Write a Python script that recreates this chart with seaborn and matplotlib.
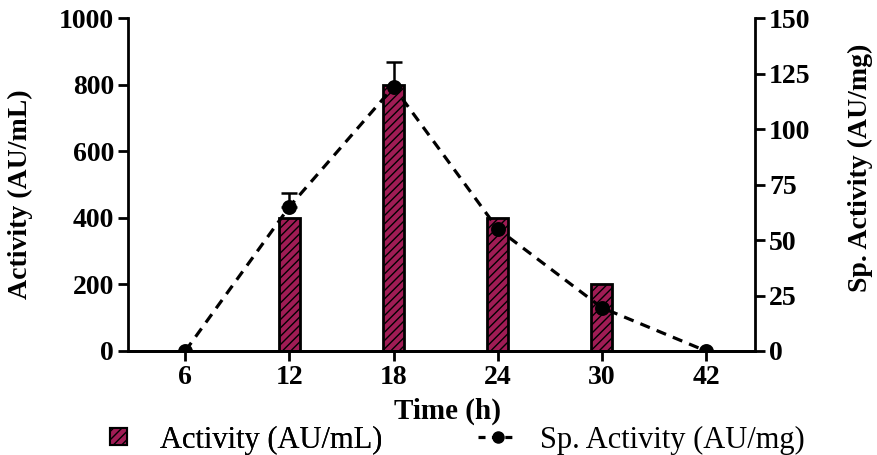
import numpy as np
import pandas as pd
import seaborn as sns
import matplotlib
matplotlib.use("Agg")
import matplotlib.pyplot as plt
from matplotlib.patches import Patch
from matplotlib.lines import Line2D

# Fermentation time course
time_labels = ["6", "12", "18", "24", "30", "42"]
activity = [0, 400, 800, 400, 200, 0]            # AU/mL
sp_activity = [0, 65, 119, 55, 19.5, 0]          # AU/mg
sp_err_upper = [0, 6, 11, 0, 0, 0]               # upper error, AU/mg

bar_color = "#a01c55"

sns.set_theme(style="ticks")
plt.rcParams["font.family"] = ["Liberation Serif", "DejaVu Serif"]
plt.rcParams["font.weight"] = "bold"
plt.rcParams["axes.labelweight"] = "bold"
plt.rcParams["text.color"] = "black"
plt.rcParams["axes.labelcolor"] = "black"
plt.rcParams["axes.edgecolor"] = "black"
plt.rcParams["xtick.color"] = "black"
plt.rcParams["ytick.color"] = "black"
plt.rcParams["hatch.color"] = "#3a0418"
plt.rcParams["hatch.linewidth"] = 1.0

df = pd.DataFrame({"Time": time_labels, "Activity": activity, "Sp": sp_activity})

fig = plt.figure(figsize=(8.78, 4.55), dpi=100)
ax = fig.add_axes([128 / 878, 1 - 351 / 455, (755 - 128) / 878, (351 - 18) / 455])

sns.barplot(data=df, x="Time", y="Activity", order=time_labels, color=bar_color,
            saturation=1, width=0.2, edgecolor="black", linewidth=2,
            hatch="////", ax=ax)

ax2 = ax.twinx()
sns.pointplot(data=df, x="Time", y="Sp", order=time_labels, color="black",
              markers="o", linestyles="--", errorbar=None, ax=ax2,
              markersize=9, linewidth=2.3)
for ln in ax2.lines:
    ln.set_dashes((3.2, 2.3))

# upper error bars on specific activity
idx = [i for i, e in enumerate(sp_err_upper) if e > 0]
ax2.errorbar(idx, [sp_activity[i] for i in idx],
             yerr=[[0] * len(idx), [sp_err_upper[i] for i in idx]],
             fmt="none", ecolor="black", elinewidth=1.8, capsize=6, capthick=1.8)

for a in (ax, ax2):
    a.set_xlim(-0.55, 5.47)
    a.spines["top"].set_visible(False)
    for s in a.spines.values():
        s.set_linewidth(2)
        s.set_color("black")
    a.tick_params(width=2, length=7, labelsize=20, pad=3, colors="black")

ax.set_ylim(0, 1000)
ax.set_yticks(np.arange(0, 1001, 200))
ax2.set_ylim(0, 150)
ax2.set_yticks(np.arange(0, 151, 25))
ax.spines["right"].set_visible(False)
ax2.spines["left"].set_visible(False)

ax.set_xlabel("Time (h)", fontsize=21, fontweight="bold", color="black")
ax.set_ylabel("Activity (AU/mL)", fontsize=20, fontweight="bold", color="black")
ax2.set_ylabel("Sp. Activity (AU/mg)", fontsize=20, fontweight="bold", color="black")
ax.xaxis.set_label_coords(0.509, -0.14)
ax.yaxis.set_label_coords(-0.152, 0.47)
ax2.yaxis.set_label_coords(1.148, 0.55)

for lab in ax.get_xticklabels() + ax.get_yticklabels() + ax2.get_yticklabels():
    lab.set_fontweight("bold")

leg_font = {"family": "Liberation Serif", "weight": "normal", "size": 22}
leg1 = fig.legend(handles=[Patch(facecolor=bar_color, edgecolor="black",
                                 hatch="////", linewidth=1.5)],
                  labels=["Activity (AU/mL)"], loc="center left",
                  bbox_to_anchor=(110 / 878, 1 - 440 / 455), frameon=False,
                  prop=leg_font, borderpad=0, borderaxespad=0,
                  handlelength=0.56, handleheight=0.45, handletextpad=1.08,
                  labelcolor="black")
fig.add_artist(leg1)
fig.legend(handles=[Line2D([], [], color="black", lw=2.3, ls=(0, (2.2, 2.0)),
                           marker="o", markersize=8)],
           labels=["Sp. Activity (AU/mg)"], loc="center left",
           bbox_to_anchor=(478 / 878, 1 - 440 / 455), frameon=False,
           prop=leg_font, borderpad=0, borderaxespad=0,
           handlelength=1.28, handletextpad=0.75, labelcolor="black")

fig.savefig("out.png", dpi=100)
